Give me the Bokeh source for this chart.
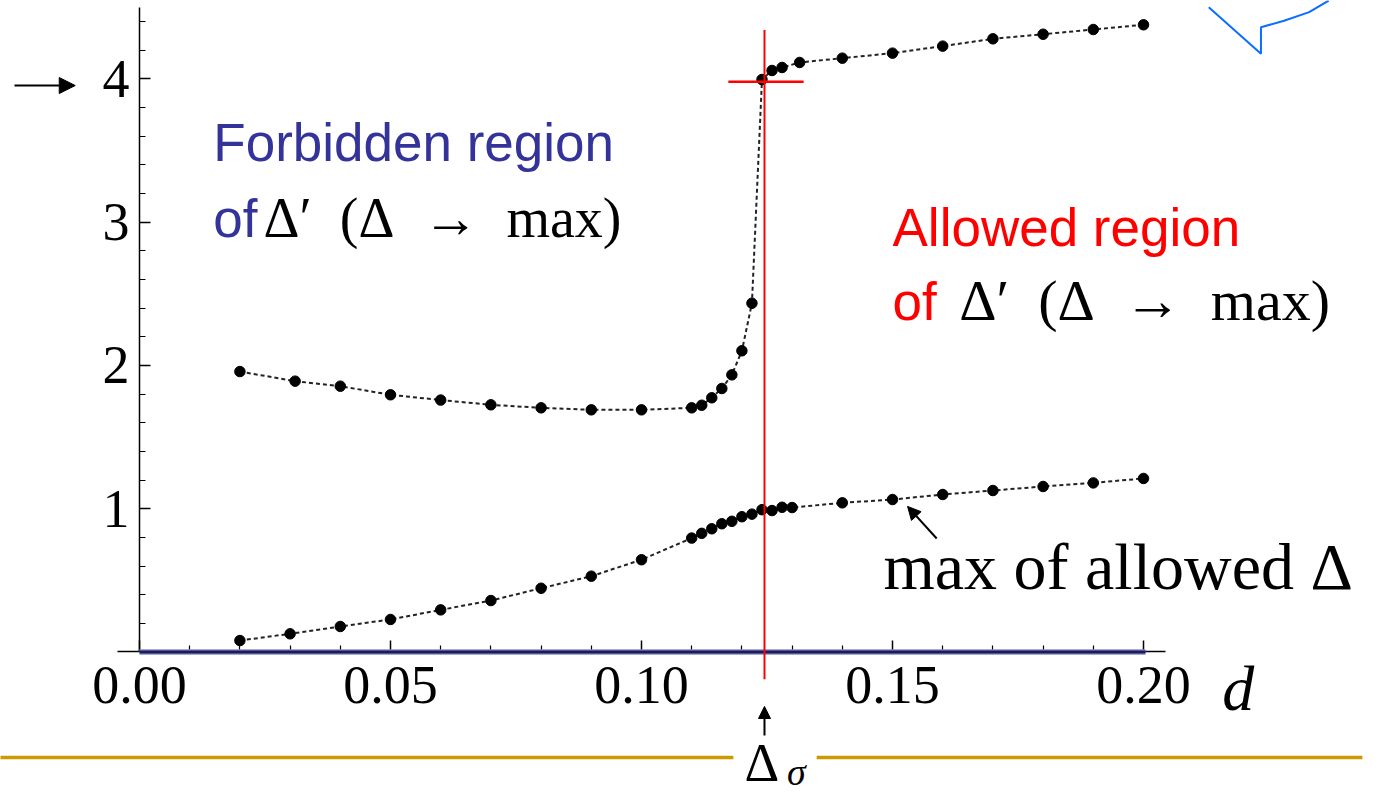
from bokeh.plotting import figure
from bokeh.models import Range1d, FixedTicker, NumeralTickFormatter, Arrow, NormalHead, Label
from bokeh.embed import file_html
from bokeh.resources import INLINE

# ---- data ----
upper_d = [0.020, 0.031, 0.040, 0.050, 0.060, 0.070, 0.080, 0.090, 0.100, 0.110, 0.112, 0.114,
           0.116, 0.118, 0.120, 0.122, 0.124, 0.126, 0.128, 0.1315, 0.140, 0.150, 0.160, 0.170,
           0.180, 0.190, 0.200]
upper_v = [1.957, 1.890, 1.855, 1.795, 1.758, 1.725, 1.704, 1.690, 1.690, 1.704, 1.722, 1.774,
           1.839, 1.934, 2.102, 2.434, 3.995, 4.058, 4.079, 4.114, 4.144, 4.179, 4.228, 4.279,
           4.311, 4.344, 4.377]
lower_d = [0.020, 0.030, 0.040, 0.050, 0.060, 0.070, 0.080, 0.090, 0.100, 0.110, 0.112, 0.114,
           0.116, 0.118, 0.120, 0.122, 0.124, 0.126, 0.128, 0.130, 0.140, 0.150, 0.160, 0.170,
           0.180, 0.190, 0.200]
lower_v = [0.080, 0.127, 0.178, 0.227, 0.294, 0.359, 0.445, 0.529, 0.644, 0.795, 0.828, 0.860,
           0.895, 0.912, 0.944, 0.962, 0.993, 0.987, 1.010, 1.008, 1.041, 1.064, 1.099, 1.127,
           1.155, 1.180, 1.211]
x_ticks = [0.00, 0.05, 0.10, 0.15, 0.20]
x_minor = [0.01, 0.02, 0.03, 0.04, 0.06, 0.07, 0.08, 0.09, 0.11, 0.12, 0.13, 0.14,
           0.16, 0.17, 0.18, 0.19]
y_ticks = [1, 2, 3, 4]
y_minor = [0.2, 0.4, 0.6, 0.8, 1.2, 1.4, 1.6, 1.8, 2.2, 2.4, 2.6, 2.8, 3.2, 3.4, 3.6, 3.8, 4.2, 4.4]
delta_sigma = 0.1245     # position of the vertical red line
cross_level = 3.98       # red horizontal marker

SERIF = "Liberation Serif"
SANS = "Liberation Sans"
PX_PER_UNIT_Y = 143.3
EN = "\u2002"

p = figure(width=1365, height=795, output_backend="svg", toolbar_location=None,
           x_range=Range1d(-0.027689, 0.244223), y_range=Range1d(-1.0014, 4.5464),
           min_border=0)
p.outline_line_color = None
p.grid.visible = False
p.background_fill_color = "white"
p.border_fill_color = "white"

# axes drawn through the origin
for ax in (p.xaxis, p.yaxis):
    ax.fixed_location = 0
    ax.axis_line_color = "black"
    ax.axis_line_width = 1.5
    ax.major_tick_in = 11
    ax.major_tick_out = 0
    ax.minor_tick_in = 6
    ax.minor_tick_out = 0
    ax.major_tick_line_width = 1.5
    ax.minor_tick_line_width = 1.2
    ax.major_tick_line_color = "black"
    ax.minor_tick_line_color = "black"
    ax.major_label_text_font = SERIF
    ax.major_label_text_font_size = "54px"
    ax.major_label_text_color = "black"
p.xaxis.bounds = (-0.0044, 0.2044)
p.yaxis.bounds = (0, 4.5)
p.xaxis.ticker = FixedTicker(ticks=x_ticks, minor_ticks=x_minor)
p.yaxis.ticker = FixedTicker(ticks=y_ticks, minor_ticks=y_minor)
p.xaxis.formatter = NumeralTickFormatter(format="0.00")
p.yaxis.formatter = NumeralTickFormatter(format="0")
p.xaxis.major_label_standoff = 15
p.yaxis.major_label_standoff = 10

# curves
for xs, ys in ((upper_d, upper_v), (lower_d, lower_v)):
    p.line(xs, ys, line_color="#222222", line_width=2, line_dash="4 3")
    p.scatter(xs, ys, size=10.5, fill_color="black", line_color="black")

# blue boundary on the d axis
r1 = p.segment(x0=[0.0], y0=[0.0], x1=[0.2004], y1=[0.0], line_color="#8c8cc8", line_width=5.5)
r2 = p.segment(x0=[0.0], y0=[0.0], x1=[0.2004], y1=[0.0], line_color="#1c1c5c", line_width=3)
r1.level = "overlay"
r2.level = "overlay"

# red marker
rv = p.segment(x0=[delta_sigma], y0=[-0.19], x1=[delta_sigma], y1=[4.34], line_color="red", line_width=2)
rh = p.segment(x0=[0.1173], y0=[cross_level], x1=[0.1323], y1=[cross_level], line_color="red", line_width=2.5)
rv.level = "overlay"
rh.level = "overlay"

# gold slide rules
p.segment(x0=[-0.03, 0.1349], y0=[-0.736, -0.736], x1=[0.1183, 0.2436], y1=[-0.736, -0.736],
          line_color="#cc9900", line_width=3.5)

# blue callout outline (top right)
p.line([0.2130, 0.2234, 0.2234, 0.2280, 0.2330, 0.2369],
       [4.4997, 4.174, 4.360, 4.405, 4.465, 4.546], line_color="#0a6eff", line_width=2)

# arrows
p.add_layout(Arrow(x_start=-0.0249, y_start=3.953, x_end=-0.0128, y_end=3.953,
                   line_color="black", line_width=2,
                   end=NormalHead(size=16, fill_color="black", line_color="black")))
p.add_layout(Arrow(x_start=0.1588, y_start=0.792, x_end=0.1530, y_end=1.016,
                   line_color="black", line_width=2,
                   end=NormalHead(size=13, fill_color="black", line_color="black")))
p.add_layout(Arrow(x_start=delta_sigma, y_start=-0.583, x_end=delta_sigma, y_end=-0.380,
                   line_color="black", line_width=2,
                   end=NormalHead(size=12, fill_color="black", line_color="black")))

def lab(x, y, text, font, size, color="black", style="normal"):
    # y is the wanted baseline; lift by the observed baseline offset of the renderer
    y_adj = y + 0.37 * size / PX_PER_UNIT_Y
    p.add_layout(Label(x=x, y=y_adj, text=text, text_font=font, text_font_size=f"{size}px",
                       text_color=color, text_font_style=style,
                       text_align="left", text_baseline="alphabetic"))

prime_text = "Δ′" + EN + "(Δ" + EN + "→" + EN + "max)"
lab(0.0147, 3.416, "Forbidden region", SANS, 53, "#333399")
lab(0.0147, 2.886, "of", SANS, 53, "#333399")
lab(0.0247, 2.886, prime_text, SERIF, 56)
lab(0.150, 2.823, "Allowed region", SANS, 53, "red")
lab(0.150, 2.306, "of", SANS, 53, "red")
lab(0.1633, 2.306, prime_text, SERIF, 58)
lab(0.1482, 0.429, "max of allowed Δ", SERIF, 66)
lab(0.2157, -0.422, "d", SERIF, 64, style="italic")
lab(0.1205, -0.911, "Δ", SERIF, 54)
lab(0.1290, -0.939, "σ", SERIF, 38, style="italic")

open("out.html", "w").write(file_html(p, INLINE))
